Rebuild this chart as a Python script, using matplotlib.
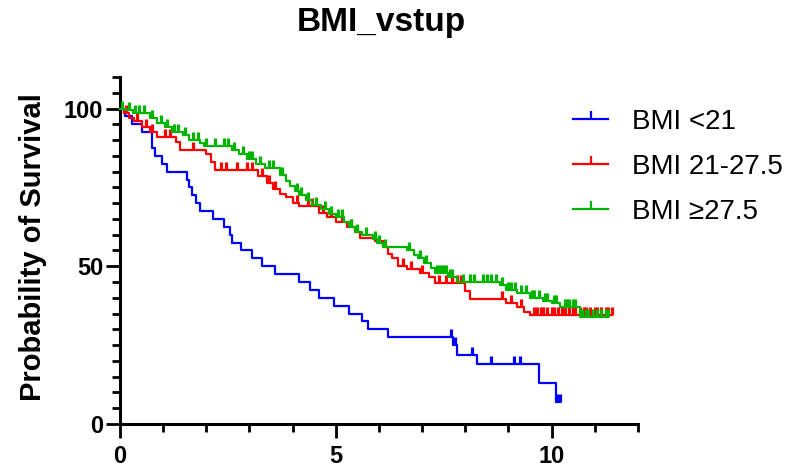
import matplotlib.pyplot as plt
import numpy as np
from matplotlib.lines import Line2D
from matplotlib.ticker import MultipleLocator

plt.rcParams['font.family'] = ['Liberation Sans', 'DejaVu Sans']

# --- Kaplan-Meier steps (time in years, survival in %) ---
blue_t = [0, 0.12, 0.28, 0.52, 0.75, 0.82, 0.98, 1.1, 1.55, 1.6, 1.67, 1.75, 1.85,
          2.15, 2.4, 2.55, 2.6, 2.8, 3.05, 3.3, 3.6, 4.15, 4.4, 4.6, 4.95, 5.3,
          5.6, 5.75, 6.2, 7.72, 7.8, 8.26, 9.7, 10.09]
blue_s = [100, 97.5, 95, 92.5, 87.5, 85, 82.5, 80, 77.5, 75, 72.5, 70, 67.5,
          65, 62.5, 60, 57.5, 55, 52.5, 50, 47.5, 45, 42.5, 40, 37.5, 35,
          32.5, 30, 27.5, 25, 22, 19, 13, 7]
blue_cens = [7.68, 7.75, 8.15, 8.59, 9.12, 9.26, 10.12, 10.19]

red_t = [0, 0.1, 0.2, 0.32, 0.52, 0.7, 0.85, 1.3, 1.4, 2.0, 2.1, 2.2, 3.2, 3.4,
         3.55, 3.7, 3.85, 4.0, 4.15, 4.6, 4.8, 5.0, 5.25, 5.45, 5.55, 5.9, 6.1,
         6.2, 6.3, 6.45, 6.65, 6.95, 7.15, 7.3, 8.0, 8.1, 8.95, 9.2, 9.35, 9.5]
red_s = [100, 98.7, 97, 96, 94, 92.5, 91, 89.5, 87, 85.5, 83, 80.6, 78.5, 76.5,
         74.5, 73, 72, 70, 69, 67, 65.5, 64, 62.5, 61, 59, 58, 56,
         54, 52.5, 50, 49, 48, 46.5, 44.7, 42, 39.7, 38.5, 37, 35.5, 34.5]
red_cens = [0.15, 0.4, 0.6, 0.75, 1.05, 1.15, 1.7, 2.35, 2.45, 2.7, 2.95, 3.05,
            3.3, 3.45, 3.6, 4.1, 4.35, 4.45, 4.7, 4.9, 5.15, 5.35, 6.55, 6.75,
            7.0, 7.4, 7.55, 7.7, 7.8, 7.9, 8.85, 9.05, 9.3, 9.6, 9.65, 9.75,
            9.8, 9.9, 10.0, 10.05, 10.15, 10.25, 10.3, 10.4, 10.5, 10.55, 10.65,
            10.75, 10.8, 10.9, 11.0, 11.05, 11.15, 11.25, 11.3, 11.4]

green_t = [0, 0.15, 0.3, 0.7, 0.85, 1.05, 1.2, 1.45, 1.6, 1.85, 1.95, 2.6, 2.75,
           2.95, 3.15, 3.35, 3.7, 3.85, 3.95, 4.05, 4.15, 4.3, 4.45, 4.65, 4.85,
           5.0, 5.2, 5.3, 5.45, 5.6, 5.85, 5.95, 6.1, 6.65, 6.8, 6.9, 7.05, 7.2,
           7.3, 7.6, 7.8, 8.8, 8.95, 9.2, 9.5, 9.8, 10.0, 10.2, 10.65]
green_s = [100, 99.5, 98.5, 97, 95.5, 94, 92.7, 91.5, 90, 89, 88, 87, 85.5,
           84, 82.5, 81, 79, 77, 75.5, 74, 72.5, 71, 69.5, 68, 66.5,
           65.5, 64, 62.5, 61, 60, 58.5, 57.5, 56, 55, 53.5, 52.5, 51, 49.5,
           48, 46.5, 45, 44, 42.5, 41.5, 40, 39, 38.4, 37, 34]
green_cens = [0.05, 0.2, 0.35, 0.45, 0.55, 0.75, 0.95, 1.1, 1.25, 1.35, 1.5, 1.7,
              1.8, 2.0, 2.2, 2.4, 2.5, 2.65, 2.85, 3.0, 3.05, 3.25, 3.45, 3.55,
              3.75, 4.1, 4.2, 4.35, 4.55, 4.75, 4.9, 5.05, 5.15, 5.35, 5.5, 5.7,
              5.9, 6.0, 6.15, 6.7, 6.95, 7.1, 7.35, 7.4, 7.45, 7.5, 7.55, 7.65,
              7.7, 7.95, 8.1, 8.2, 8.4, 8.5, 8.6, 8.7, 8.85, 9.0, 9.05, 9.15,
              9.3, 9.4, 9.55, 9.6, 9.7, 9.85, 9.9, 10.05, 10.1, 10.3, 10.35,
              10.4, 10.5, 10.55, 10.7, 10.8, 10.85, 10.95, 11.05, 11.15, 11.25, 11.3]

labels = ['BMI <21', 'BMI 21-27.5', 'BMI \u226527.5']
colors = ['#0000FF', '#FF0000', '#00B400']
groups = [(blue_t, blue_s, blue_cens), (red_t, red_s, red_cens), (green_t, green_s, green_cens)]


def surv_at(t_ev, s_ev, t):
    idx = np.searchsorted(t_ev, t, side='right') - 1
    return np.asarray(s_ev)[idx]


fig = plt.figure(figsize=(7.94, 4.74), dpi=100)
ax = fig.add_axes([0.1511, 0.1055, 0.6524, 0.7321])

for (t_ev, s_ev, cens), col in zip(groups, colors):
    t_end = max(t_ev[-1], max(cens))
    ax.step(list(t_ev) + [t_end], list(s_ev) + [s_ev[-1]], where='post',
            color=col, lw=1.6, clip_on=False, zorder=3)
    ax.plot(cens, surv_at(t_ev, s_ev, cens), ls='none', marker=2, ms=6, mew=2.3,
            color=col, clip_on=False, zorder=3)

ax.set_xlim(0, 12)
ax.set_ylim(0, 110)
ax.xaxis.set_major_locator(MultipleLocator(5))
ax.xaxis.set_minor_locator(MultipleLocator(1))
ax.yaxis.set_major_locator(MultipleLocator(50))
ax.yaxis.set_minor_locator(MultipleLocator(5))
for s in ['top', 'right']:
    ax.spines[s].set_visible(False)
for s in ['left', 'bottom']:
    ax.spines[s].set_linewidth(2.2)
ax.tick_params(which='major', length=10, width=2, labelsize=17)
ax.tick_params(axis='x', which='major', pad=5)
ax.tick_params(axis='y', which='major', pad=2)
ax.tick_params(which='minor', length=5.5, width=2)
for lab in ax.get_xticklabels() + ax.get_yticklabels():
    lab.set_fontweight('bold')

fig.text(0.042, 0.478, 'Probability of Survival', rotation=90, ha='center',
         va='center', fontsize=21, fontweight='bold')
fig.text(0.48, 0.952, 'BMI_vstup', ha='center', va='center', fontsize=24,
         fontweight='bold')

handles = [Line2D([0], [0], color=c, lw=1.6, marker=2, ms=6, mew=1.6) for c in colors]
ax.legend(handles, labels, loc='upper left', bbox_to_anchor=(0.722, 0.77),
          bbox_transform=fig.transFigure, frameon=False, fontsize=20,
          handlelength=1.25, handletextpad=0.85, labelspacing=0.68,
          borderpad=0, borderaxespad=0)

fig.savefig('out.png', dpi=100)
